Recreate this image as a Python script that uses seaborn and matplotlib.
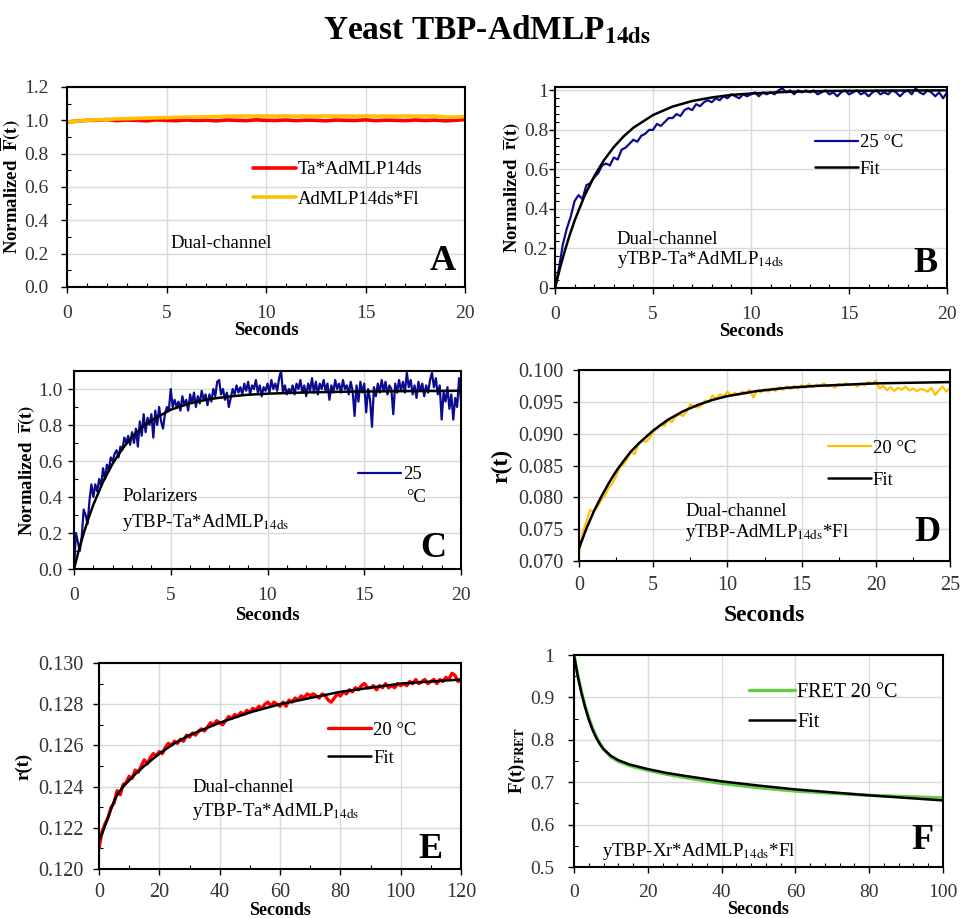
import numpy as np
import matplotlib
matplotlib.use("Agg")
import matplotlib.pyplot as plt
from matplotlib.ticker import MultipleLocator, FuncFormatter, FormatStrFormatter
import seaborn as sns

# ── Panel A: dual-channel total intensity ────────────────────────────────────
a_t = np.linspace(0, 20, 41)
a_red = [0.990, 0.995, 1.000, 1.000, 1.005, 0.998, 1.002, 1.000, 0.997, 1.003,
         1.000, 0.998, 1.002, 0.999, 1.001, 0.997, 1.002, 1.000, 0.998, 1.003,
         1.000, 0.999, 1.002, 0.998, 1.001, 1.000, 0.997, 1.002, 1.000, 0.999,
         1.003, 0.998, 1.001, 1.000, 0.998, 1.002, 0.999, 1.001, 0.997, 1.000,
         1.005]
a_orange = [0.990, 0.995, 1.000, 1.003, 1.005, 1.008, 1.010, 1.012, 1.013, 1.015,
            1.016, 1.018, 1.019, 1.020, 1.021, 1.022, 1.025, 1.025, 1.026, 1.025,
            1.026, 1.025, 1.026, 1.025, 1.026, 1.025, 1.026, 1.025, 1.026, 1.025,
            1.026, 1.025, 1.026, 1.025, 1.026, 1.025, 1.026, 1.025, 1.020, 1.020,
            1.022]

# ── Panel B: dual-channel anisotropy, 25 C ───────────────────────────────────
b_t = np.linspace(0, 20, 101)
b_data = [0.00, 0.10, 0.22, 0.30, 0.36, 0.44, 0.47, 0.45, 0.52, 0.53,
          0.56, 0.58, 0.62, 0.63, 0.62, 0.66, 0.65, 0.70, 0.71, 0.73,
          0.75, 0.74, 0.77, 0.78, 0.80, 0.80, 0.83, 0.82, 0.84, 0.86,
          0.86, 0.88, 0.87, 0.90, 0.91, 0.90, 0.93, 0.92, 0.94, 0.95,
          0.94, 0.96, 0.95, 0.97, 0.96, 0.98, 0.97, 0.96, 0.98, 0.97,
          0.98, 0.99, 0.97, 0.99, 0.98, 0.99, 0.98, 1.00, 1.01, 0.99,
          1.00, 0.98, 1.00, 0.99, 1.00, 0.99, 1.00, 0.98, 0.99, 1.00,
          0.98, 0.99, 0.97, 0.99, 1.00, 0.98, 0.99, 1.00, 0.98, 0.99,
          0.97, 0.99, 1.00, 0.98, 0.99, 0.98, 1.00, 0.99, 0.97, 0.99,
          1.00, 0.98, 1.01, 0.99, 0.98, 1.00, 0.99, 0.97, 0.99, 0.96,
          0.99]
b_fit_t = [0, 0.25, 0.5, 0.75, 1, 1.5, 2, 2.5, 3, 3.5, 4, 5, 6, 7, 8, 9, 10, 12, 14, 17, 20]
b_fit = [0.0, 0.099, 0.188, 0.268, 0.341, 0.465, 0.565, 0.647, 0.713, 0.767, 0.811,
         0.875, 0.918, 0.946, 0.964, 0.977, 0.984, 0.993, 0.997, 0.999, 1.0]

# ── Panel C: polarizers, 25 C ────────────────────────────────────────────────
c_t = np.linspace(0, 20, 201)
c_data = [0.00, 0.20, 0.15, 0.10, 0.18, 0.33, 0.30, 0.25, 0.38, 0.47,
          0.40, 0.47, 0.43, 0.50, 0.46, 0.56, 0.50, 0.58, 0.55, 0.62,
          0.60, 0.64, 0.66, 0.62, 0.68, 0.66, 0.73, 0.70, 0.74, 0.69,
          0.76, 0.70, 0.78, 0.68, 0.82, 0.74, 0.86, 0.76, 0.84, 0.80,
          0.86, 0.73, 0.88, 0.80, 0.90, 0.82, 0.78, 0.86, 0.90, 0.88,
          1.00, 0.90, 0.94, 0.90, 0.93, 0.88, 0.96, 0.91, 0.94, 0.88,
          0.97, 0.92, 0.98, 0.90, 0.96, 0.92, 0.99, 0.94, 0.97, 0.91,
          0.97, 0.93, 1.00, 0.96, 1.04, 1.05, 0.97, 1.00, 0.94, 0.98,
          0.90, 0.95, 1.00, 0.97, 1.02, 0.98, 1.01, 0.97, 1.03, 0.99,
          1.04, 0.97, 1.02, 1.00, 1.05, 0.98, 1.02, 0.96, 1.01, 0.99,
          1.03, 0.98, 1.05, 1.00, 1.03, 0.99, 1.06, 1.10, 0.98, 1.02,
          0.97, 1.00, 0.98, 1.02, 0.97, 1.03, 1.00, 1.05, 0.98, 1.02,
          0.96, 1.03, 0.99, 1.06, 0.98, 1.04, 0.97, 1.03, 1.00, 1.05,
          0.99, 1.03, 0.94, 1.02, 0.98, 1.05, 1.00, 1.03, 0.98, 1.05,
          1.00, 1.02, 0.97, 1.04, 0.99, 0.85, 1.02, 0.93, 1.04, 0.98,
          1.03, 0.87, 1.00, 0.94, 0.79, 1.01, 0.96, 1.03, 0.98, 1.05,
          0.99, 1.04, 0.97, 1.02, 1.00, 0.86, 1.03, 0.98, 1.05, 0.99,
          1.04, 0.98, 1.09, 1.01, 1.05, 0.97, 1.02, 0.95, 1.04, 0.99,
          1.03, 0.96, 1.02, 0.98, 1.05, 1.09, 1.01, 1.06, 0.97, 1.02,
          0.83, 0.98, 0.93, 1.01, 0.89, 0.97, 0.83, 0.95, 0.90, 1.06,
          0.93]
c_fit_t = [0, 0.25, 0.5, 0.75, 1, 1.5, 2, 2.5, 3, 3.5, 4, 5, 6, 7, 8, 9, 10, 12, 14, 17, 20]
c_fit = [0.0, 0.106, 0.198, 0.282, 0.357, 0.484, 0.586, 0.668, 0.734, 0.786, 0.826,
         0.885, 0.921, 0.944, 0.958, 0.968, 0.974, 0.981, 0.985, 0.988, 0.99]

# ── Panel D: dual-channel, AdMLP*Fl, 20 C ────────────────────────────────────
d_t = np.linspace(0, 25, 101)
d_data = [0.0712, 0.0745, 0.0762, 0.0780, 0.0778, 0.0785, 0.0796, 0.0803, 0.0815, 0.0822,
          0.0833, 0.0848, 0.0852, 0.0860, 0.0872, 0.0868, 0.0883, 0.0890, 0.0887, 0.0893,
          0.0903, 0.0908, 0.0915, 0.0912, 0.0922, 0.0918, 0.0927, 0.0930, 0.0928, 0.0935,
          0.0946, 0.0943, 0.0941, 0.0945, 0.0952, 0.0950, 0.0960, 0.0955, 0.0962, 0.0958,
          0.0966, 0.0960, 0.0964, 0.0961, 0.0966, 0.0963, 0.0969, 0.0957, 0.0968, 0.0965,
          0.0970, 0.0966, 0.0971, 0.0967, 0.0973, 0.0969, 0.0974, 0.0970, 0.0975, 0.0971,
          0.0976, 0.0972, 0.0978, 0.0973, 0.0977, 0.0975, 0.0979, 0.0974, 0.0976, 0.0972,
          0.0978, 0.0975, 0.0979, 0.0976, 0.0978, 0.0974, 0.0979, 0.0976, 0.0981, 0.0978,
          0.0983, 0.0971, 0.0975, 0.0968, 0.0973, 0.0967, 0.0972, 0.0969, 0.0974, 0.0968,
          0.0971, 0.0967, 0.0970, 0.0969, 0.0966, 0.0972, 0.0961, 0.0968, 0.0974, 0.0966,
          0.0972]
d_fit_t = [0, 0.5, 1, 1.5, 2, 2.5, 3, 3.5, 4, 5, 6, 7, 8, 9, 10, 12, 14, 16, 18, 20, 25]
d_fit = [0.0720, 0.0751, 0.0778, 0.0801, 0.0822, 0.0841, 0.0857, 0.0872, 0.0884, 0.0905,
         0.0922, 0.0935, 0.0945, 0.0953, 0.0959, 0.0967, 0.0972, 0.0975, 0.0977, 0.0979, 0.0981]

# ── Panel E: dual-channel, Ta*AdMLP, 20 C ────────────────────────────────────
e_t = np.linspace(0, 120, 121)
e_data = [0.1210, 0.1218, 0.1222, 0.1225, 0.1230, 0.1232, 0.1238, 0.1236, 0.1241, 0.1242,
          0.1245, 0.1244, 0.1248, 0.1247, 0.1250, 0.1253, 0.1251, 0.1254, 0.1256, 0.1255,
          0.1257, 0.1256, 0.1259, 0.1261, 0.1260, 0.1262, 0.1261, 0.1263, 0.1262, 0.1265,
          0.1264, 0.1266, 0.1265, 0.1267, 0.1268, 0.1267, 0.1269, 0.1271, 0.1270, 0.1272,
          0.1271, 0.1270, 0.1272, 0.1274, 0.1273, 0.1275, 0.1274, 0.1276, 0.1275, 0.1277,
          0.1276, 0.1278, 0.1277, 0.1279, 0.1278, 0.1280, 0.1281, 0.1279, 0.1281, 0.1280,
          0.1279, 0.1281, 0.1279, 0.1282, 0.1281, 0.1283, 0.1282, 0.1284, 0.1283, 0.1285,
          0.1284, 0.1285, 0.1284, 0.1283, 0.1285, 0.1284, 0.1282, 0.1281, 0.1283, 0.1285,
          0.1284, 0.1286, 0.1285, 0.1287, 0.1286, 0.1288, 0.1287, 0.1289, 0.1290, 0.1288,
          0.1288, 0.1289, 0.1287, 0.1289, 0.1288, 0.1290, 0.1288, 0.1289, 0.1288, 0.1290,
          0.1289, 0.1290, 0.1289, 0.1291, 0.1290, 0.1292, 0.1290, 0.1291, 0.1292, 0.1290,
          0.1291, 0.1292, 0.1290, 0.1292, 0.1291, 0.1293, 0.1292, 0.1295, 0.1294, 0.1291,
          0.1292]
e_fit_t = [0, 1, 2, 3, 4, 5, 6, 8, 10, 12, 15, 20, 25, 30, 40, 50, 60, 70, 80, 90, 100, 110, 120]
e_fit = [0.1214, 0.1217, 0.1221, 0.1225, 0.1229, 0.1233, 0.1236, 0.1240, 0.1243, 0.1246,
         0.1250, 0.1256, 0.1261, 0.1265, 0.1271, 0.1276, 0.1280, 0.1283, 0.1286, 0.1288,
         0.1290, 0.1291, 0.1292]

# ── Panel F: FRET, 20 C ──────────────────────────────────────────────────────
f_t = [0, 1, 2, 3, 4, 5, 6, 7, 8, 10, 12, 15, 20, 25, 30, 40, 50, 60, 70, 80, 90, 100]
f_data = [1.0, 0.953, 0.914, 0.880, 0.852, 0.828, 0.808, 0.792, 0.778, 0.760, 0.749,
          0.739, 0.728, 0.719, 0.711, 0.697, 0.687, 0.679, 0.674, 0.669, 0.666, 0.663]
f_fit = [1.0, 0.951, 0.911, 0.877, 0.848, 0.824, 0.805, 0.790, 0.778, 0.762, 0.752,
         0.742, 0.731, 0.722, 0.715, 0.702, 0.692, 0.683, 0.676, 0.669, 0.663, 0.657]

sns.set_theme(style="white")
plt.rcParams["font.family"] = ["Liberation Serif", "DejaVu Serif"]
plt.rcParams["mathtext.fontset"] = "stix"
plt.rcParams["text.color"] = "black"
plt.rcParams["axes.labelcolor"] = "black"

TICK = "#333333"
GRID = "#d9d9d9"
NAVY = "#0b0b8f"
FS = 13.5      # annotation / legend text
LS = 13.5      # axis labels
BIG = 26       # panel letters

fig = plt.figure(figsize=(9.6, 9.18), dpi=100)


def rect(l, r, t, b):
    return [l / 960, 1 - b / 918, (r - l) / 960, (b - t) / 918]


def style(ax, xlim, ylim, xmaj, ymaj, xmin, ymin, yfmt, xpad, ypad, xlabpad,
          tick_size=14, xlab_size=LS):
    ax.set_xlim(*xlim)
    ax.set_ylim(*ylim)
    ax.xaxis.set_major_locator(MultipleLocator(xmaj))
    ax.yaxis.set_major_locator(MultipleLocator(ymaj))
    if xmin:
        ax.xaxis.set_minor_locator(MultipleLocator(xmin))
    if ymin:
        ax.yaxis.set_minor_locator(MultipleLocator(ymin))
    ax.yaxis.set_major_formatter(yfmt)
    ax.xaxis.set_major_formatter(FuncFormatter(lambda v, p: f"{v:g}"))
    ax.grid(True, which="major", color=GRID, linewidth=1)
    ax.set_axisbelow(True)
    for s in ax.spines.values():
        s.set_color("black")
        s.set_linewidth(1.5)
        s.set_visible(True)
    ax.tick_params(which="major", direction="out", length=4, width=1,
                   colors="black", labelcolor=TICK, labelsize=tick_size, bottom=True, left=True)
    ax.tick_params(axis="x", which="major", pad=xpad)
    ax.tick_params(axis="y", which="major", pad=ypad)
    ax.tick_params(which="minor", direction="in", length=3, width=0.8,
                   colors="black", bottom=True, left=True)
    ax.set_xlabel("Seconds", fontsize=xlab_size, fontweight="bold", labelpad=xlabpad)


def legend(ax, x, y, spacing, size=FS, hlen=2.3):
    ax.legend(loc="upper left", bbox_to_anchor=(x, y), frameon=False, fontsize=size,
              handlelength=hlen, handletextpad=0.1, labelspacing=spacing,
              borderpad=0, borderaxespad=0)


def note(ax, x, y, s, size=FS):
    ax.text(x, y, s, transform=ax.transAxes, fontsize=size, va="center")


def letter(ax, x, y, s):
    ax.text(x, y, s, transform=ax.transAxes, fontsize=BIG, fontweight="bold",
            ha="center", va="center")


gen = FuncFormatter(lambda v, p: f"{v:g}")
sub = r"$_{\mathrm{14ds}}$"

# A
ax = fig.add_axes(rect(67, 465, 87, 287))
sns.lineplot(x=a_t, y=a_red, ax=ax, color="#ff0000", linewidth=2.6, label="Ta*AdMLP14ds", estimator=None)
sns.lineplot(x=a_t, y=a_orange, ax=ax, color="#ffc000", linewidth=2.6, label="AdMLP14ds*Fl", estimator=None)
style(ax, (0, 20), (0, 1.2), 5, 0.2, 1, 0.1, FormatStrFormatter("%.1f"), 9, 9, 0)
ax.set_ylabel(r"Normalized  $\overline{\mathbf{F}}\mathbf{(t)}$", fontsize=LS, fontweight="bold", labelpad=1)
legend(ax, 0.467, 0.63, 0.67)
note(ax, 0.259, 0.215, "Dual-channel")
letter(ax, 0.945, 0.125, "A")

# B
ax = fig.add_axes(rect(555, 947, 87, 288))
sns.lineplot(x=b_t, y=b_data, ax=ax, color=NAVY, linewidth=1.6, label="25 °C", estimator=None)
sns.lineplot(x=b_fit_t, y=b_fit, ax=ax, color="black", linewidth=1.8, label="Fit", estimator=None)
style(ax, (0, 20), (0, 1.017), 5, 0.2, 1, 0.04, gen, 9, 1, 0)
ax.set_ylabel(r"Normalized  $\overline{\mathbf{r}}\mathbf{(t)}$", fontsize=LS, fontweight="bold", labelpad=1)
legend(ax, 0.663, 0.766, 0.52)
note(ax, 0.158, 0.239, "Dual-channel")
note(ax, 0.158, 0.144, "yTBP-Ta*AdMLP" + sub)
letter(ax, 0.944, 0.124, "B")

# C
ax = fig.add_axes(rect(74, 461, 371, 569))
sns.lineplot(x=c_t, y=c_data, ax=ax, color=NAVY, linewidth=1.6, label="25", estimator=None)
sns.lineplot(x=c_fit_t, y=c_fit, ax=ax, color="black", linewidth=1.8, estimator=None)
style(ax, (0, 20), (0, 1.1), 5, 0.2, 1, 0.1, FormatStrFormatter("%.1f"), 9, 4, 2)
ax.set_ylabel(r"Normalized  $\overline{\mathbf{r}}\mathbf{(t)}$", fontsize=LS, fontweight="bold", labelpad=1)
legend(ax, 0.734, 0.52, 0.25)
note(ax, 0.857, 0.36, "°C")
note(ax, 0.124, 0.364, "Polarizers")
note(ax, 0.124, 0.237, "yTBP-Ta*AdMLP" + sub)
letter(ax, 0.928, 0.106, "C")

# D
ax = fig.add_axes(rect(579, 950, 370, 561))
sns.lineplot(x=d_t, y=d_data, ax=ax, color="#ffc000", linewidth=1.6, label="20 °C", estimator=None)
sns.lineplot(x=d_fit_t, y=d_fit, ax=ax, color="black", linewidth=1.8, label="Fit", estimator=None)
style(ax, (0, 25), (0.07, 0.1), 5, 0.005, 2.5, None, FormatStrFormatter("%.3f"), 7, 7, 7,
      tick_size=14.5, xlab_size=17)
ax.set_ylabel("r(t)", fontsize=17, fontweight="bold", labelpad=4)
legend(ax, 0.671, 0.634, 0.77)
note(ax, 0.286, 0.257, "Dual-channel")
note(ax, 0.286, 0.147, "yTBP-AdMLP" + sub + "*Fl")
letter(ax, 0.938, 0.147, "D")

# E
ax = fig.add_axes(rect(99, 461, 663, 869))
sns.lineplot(x=e_t, y=e_data, ax=ax, color="#ff0000", linewidth=2.4, label="20 °C", estimator=None)
sns.lineplot(x=e_fit_t, y=e_fit, ax=ax, color="black", linewidth=1.8, label="Fit", estimator=None)
style(ax, (0, 120), (0.12, 0.13), 20, 0.002, 10, 0.001, FormatStrFormatter("%.3f"), 6, 7, 0,
      tick_size=14.5, xlab_size=13)
ax.set_ylabel("r(t)", fontsize=LS, fontweight="bold", labelpad=4)
legend(ax, 0.633, 0.714, 0.57)
note(ax, 0.257, 0.398, "Dual-channel")
note(ax, 0.257, 0.277, "yTBP-Ta*AdMLP" + sub)
letter(ax, 0.917, 0.097, "E")

# F
ax = fig.add_axes(rect(574, 943, 655, 867))
sns.lineplot(x=f_t, y=f_data, ax=ax, color="#66cc44", linewidth=2.4, label="FRET 20 °C", estimator=None)
sns.lineplot(x=f_t, y=f_fit, ax=ax, color="black", linewidth=1.8, label="Fit", estimator=None)
style(ax, (0, 100), (0.5, 1.0), 20, 0.1, 4, 0.05, gen, 8, 10, 0, xlab_size=13)
ax.set_ylabel(r"F(t)$_{\mathbf{FRET}}$", fontsize=LS, fontweight="bold", labelpad=2)
legend(ax, 0.474, 0.867, 0.55, size=14.5)
note(ax, 0.076, 0.075, "yTBP-Xr*AdMLP" + sub + "*Fl")
letter(ax, 0.943, 0.127, "F")

fig.text(0.507, 1 - 40 / 918, r"Yeast TBP-AdMLP$_{\mathbf{14ds}}$", fontsize=24,
         fontweight="bold", ha="center", va="baseline")

fig.savefig("out.png", dpi=100)
